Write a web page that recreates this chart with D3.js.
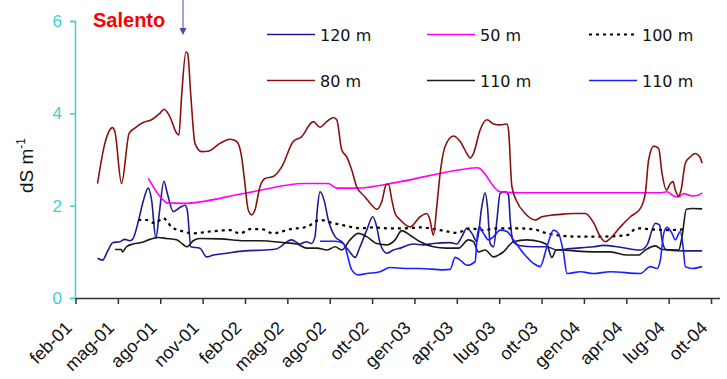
<!DOCTYPE html>
<html>
<head>
<meta charset="utf-8">
<script src="https://cdn.jsdelivr.net/npm/d3@7"></script>
<style>
  body { margin: 0; background: #fff; }
  svg { display: block; }
</style>
</head>
<body>
<div id="chart"></div>
<script>
// x in months since feb-01, y in dS m-1
const tickLabels = ["feb-01","mag-01","ago-01","nov-01","feb-02","mag-02","ago-02","ott-02",
                    "gen-03","apr-03","lug-03","ott-03","gen-04","apr-04","lug-04","ott-04"];
const yTicks = [0, 2, 4, 6];

const s120 = [[1.56,0.86],[1.91,0.82],[2.31,1.04],[2.66,1.20],[3.14,1.22],[3.49,1.27],[3.85,1.24],[4.08,1.29],
  [4.44,1.65],[4.79,2.09],[5.15,2.38],[5.39,2.12],[5.69,1.29],[5.93,1.83],[6.26,2.53],[6.5,2.27],[6.92,1.87],
  [7.39,1.96],[7.75,2.01],[7.91,1.91],[8.17,1.11],[8.81,1.08],[9.28,0.89],[9.75,0.93],[10.7,0.97],[12.0,1.02],
  [13.5,1.04],[14.2,1.06],[15.3,1.26],[15.9,1.17],[16.37,1.22],[16.7,1.18],[16.96,1.33],[17.12,1.91],[17.31,2.30],
  [17.6,2.12],[17.9,1.69],[18.38,1.33],[18.85,1.22],[19.32,1.04],[19.8,0.88],[20.15,1.11],[20.62,1.47],[21.05,1.76],
  [21.33,1.54],[21.57,1.18],[22.04,0.97],[22.51,1.04],[23.0,1.08],[23.93,1.17],[24.64,1.15],[25.34,1.18],[26.53,1.20],
  [27.0,1.17],[27.36,1.33],[27.71,1.51],[28.07,1.40],[28.42,1.22],[28.77,1.98],[29.0,2.28],[29.17,1.98],[29.36,1.18],
  [29.6,1.11],[29.84,1.69],[30.07,2.27],[30.43,2.30],[30.66,2.23],[30.78,1.69],[31.01,1.22],[31.49,1.13],[32.43,1.11],
  [33.38,1.11],[34.09,1.04],[35.0,1.07],[36.68,1.11],[37.39,1.14],[38.58,1.10],[40.0,1.04],[40.47,1.15],[41.06,1.62],
  [41.36,1.58],[41.53,1.26],[41.84,1.04],[43.18,1.02],[44.37,1.02]];

const s50 = [[5.15,2.59],[6.09,2.16],[6.5,2.06],[7.63,2.05],[12.0,2.27],[16.25,2.48],[17.9,2.48],[18.5,2.38],
  [19.9,2.38],[23.0,2.52],[27.47,2.79],[28.46,2.82],[30.07,2.30],[31.49,2.28],[41.5,2.28],[41.88,2.30],[42.35,2.21],
  [42.71,2.19],[43.06,2.26],[43.66,2.21],[44.12,2.23],[44.37,2.28]];

const s100 = [[4.44,1.69],[5.03,1.69],[5.62,1.62],[6.21,1.73],[6.8,1.54],[7.63,1.44],[8.33,1.40],[9.52,1.44],
  [10.94,1.47],[11.65,1.40],[12.35,1.49],[13.18,1.49],[14.0,1.40],[15.19,1.49],[16.37,1.54],[17.31,1.69],[18.26,1.62],
  [19.2,1.56],[20.15,1.51],[21.09,1.53],[22.04,1.51],[23.34,1.51],[24.4,1.53],[25.82,1.47],[27.0,1.41],[27.94,1.51],
  [28.89,1.47],[29.84,1.51],[31.01,1.51],[32.43,1.49],[33.38,1.40],[35.5,1.33],[37.16,1.33],[39.05,1.36],[39.76,1.51],
  [40.7,1.49],[41.88,1.47],[43.18,1.49]];

const s80 = [[1.56,2.48],[2.08,3.35],[2.62,3.69],[2.79,3.60],[3.26,2.48],[3.80,3.57],[4.20,3.68],[4.79,3.80],
  [5.39,3.86],[5.97,4.0],[6.28,4.09],[6.68,3.93],[7.16,3.57],[7.32,3.53],[7.51,4.36],[7.82,5.33],[7.94,5.30],[8.17,4.36],
  [8.46,3.35],[8.93,3.17],[9.40,3.18],[10.23,3.35],[10.94,3.44],[11.41,3.39],[11.76,3.06],[11.95,2.6],[12.23,1.91],
  [12.47,1.80],[12.71,1.91],[13.06,2.41],[13.42,2.59],[14.0,2.63],[14.6,2.84],[15.42,3.39],[16.0,3.49],[16.84,3.82],
  [17.31,3.70],[17.79,3.82],[18.26,3.91],[18.5,3.86],[18.85,3.21],[19.2,3.06],[19.56,2.77],[19.91,2.41],[20.5,2.19],
  [20.98,2.01],[21.33,1.92],[21.69,2.09],[21.99,2.45],[22.16,2.47],[22.4,2.12],[22.63,1.83],[23.0,1.69],[23.69,1.54],
  [24.4,1.76],[24.88,1.83],[25.1,1.69],[25.34,1.36],[25.58,1.98],[25.82,2.70],[26.17,3.28],[26.76,3.51],[27.24,3.39],
  [27.71,3.13],[27.94,3.03],[28.18,3.13],[28.65,3.64],[29.13,3.86],[29.6,3.77],[30.07,3.75],[30.55,3.77],[30.66,3.64],
  [30.9,2.41],[31.25,2.09],[31.84,1.83],[32.55,1.69],[33.03,1.76],[33.85,1.80],[34.68,1.82],[35.27,1.83],[36.1,1.83],
  [36.7,1.62],[37.16,1.33],[37.51,1.22],[37.87,1.29],[38.58,1.54],[39.29,1.76],[40.0,1.94],[40.35,2.27],[40.58,2.99],
  [40.94,3.29],[41.29,3.24],[41.53,2.70],[41.84,2.34],[42.12,2.48],[42.31,2.52],[42.47,2.34],[42.71,2.21],[42.88,2.34],
  [43.18,2.92],[43.54,3.06],[43.89,3.13],[44.2,3.06],[44.37,2.92]];

const s110k = [[2.79,1.05],[3.26,1.05],[3.33,1.00],[3.61,1.11],[4.08,1.17],[4.67,1.20],[5.27,1.27],[5.85,1.31],
  [6.45,1.29],[7.16,1.26],[7.58,1.17],[7.91,1.11],[8.33,1.24],[8.81,1.29],[10.23,1.28],[12.0,1.24],[13.06,1.24],
  [14.71,1.20],[15.66,1.17],[16.37,1.08],[17.08,1.08],[17.83,1.04],[18.38,1.11],[18.85,1.04],[19.44,1.26],[20.03,1.40],
  [20.62,1.33],[21.33,1.18],[22.04,1.15],[22.63,1.26],[23.1,1.46],[23.69,1.36],[24.4,1.22],[25.34,1.11],[26.29,1.08],
  [27.12,1.08],[27.82,1.26],[28.18,1.22],[28.53,1.00],[29.0,1.04],[29.6,0.89],[30.3,1.00],[31.01,1.22],[31.96,1.26],
  [32.9,1.22],[33.38,1.15],[33.73,0.88],[34.04,1.04],[36.68,1.00],[37.87,1.00],[39.05,0.93],[39.87,0.93],[40.35,1.04],
  [41.06,1.13],[41.53,1.05],[42.71,1.04],[42.95,1.33],[43.25,1.92],[43.66,1.94],[44.37,1.93]];

const s110b = [[17.31,1.23],[18.38,1.23],[18.97,1.18],[19.56,0.61],[20.03,0.50],[20.62,0.53],[21.57,0.57],
  [22.27,0.66],[23.34,0.64],[24.4,0.64],[26.05,0.61],[26.53,0.62],[26.88,0.88],[27.24,0.82],[27.71,0.71],[28.3,0.79],
  [28.42,1.26],[28.6,1.54],[28.89,1.40],[29.24,1.26],[29.6,1.33],[30.07,1.47],[30.55,1.44],[31.01,1.26],[31.72,0.97],
  [32.43,0.75],[32.9,0.68],[33.38,1.11],[33.85,1.47],[34.2,1.40],[34.56,0.97],[34.8,0.53],[35.75,0.57],[36.68,0.53],
  [37.87,0.57],[40.0,0.53],[40.7,0.68],[41.18,0.64],[41.41,0.82],[41.65,1.40],[41.88,1.53],[42.24,1.40],[42.47,1.26],
  [42.83,1.44],[43.02,1.11],[43.18,0.68],[43.66,0.64],[44.37,0.68]];

const series = [
  {name: "120 m", data: s120, color: "#1c1c96", dash: null},
  {name: "50 m",  data: s50,  color: "#ff00ff", dash: null},
  {name: "100 m", data: s100, color: "#000000", dash: "3,4"},
  {name: "80 m",  data: s80,  color: "#8b1010", dash: null},
  {name: "110 m", data: s110k, color: "#1a1a1a", dash: null},
  {name: "110 m", data: s110b, color: "#1e1eff", dash: null}
];

const W = 727, H = 379;
const svg = d3.select("#chart").append("svg")
  .attr("width", W).attr("height", H)
  .style("font-family", "'Liberation Sans', Arial, sans-serif");

const x = d3.scaleLinear().domain([0, 45.6]).range([75.5, 719.5]);
const y = d3.scaleLinear().domain([0, 6]).range([298, 21]);

// y axis (cyan)
const yAxis = svg.append("g")
  .attr("transform", "translate(75,0)")
  .call(d3.axisLeft(y).tickValues(yTicks).tickSize(5).tickPadding(8).tickFormat(d3.format("d")));
yAxis.select(".domain").attr("stroke", "#40d0d0").attr("stroke-width", 1.5);
yAxis.selectAll(".tick line").attr("stroke", "#40d0d0").attr("stroke-width", 1.5);
yAxis.selectAll(".tick text").attr("fill", "#40d0d0").attr("font-size", 17)
  .attr("font-family", "'Liberation Sans', Arial, sans-serif");

// x axis
const xAxis = svg.append("g")
  .attr("transform", "translate(0,298)")
  .call(d3.axisBottom(x).tickValues(d3.range(0, 46, 3)).tickSize(6).tickSizeOuter(0)
    .tickFormat((d, i) => tickLabels[i]));
xAxis.select(".domain").attr("stroke", "#333").attr("stroke-width", 1.5);
xAxis.selectAll(".tick line").attr("stroke", "#333").attr("stroke-width", 1.5);
xAxis.selectAll(".tick text")
  .attr("font-size", 18).attr("fill", "#111")
  .attr("font-family", "'Liberation Sans', Arial, sans-serif")
  .attr("text-anchor", "end")
  .attr("dy", null).attr("y", null)
  .attr("transform", "translate(-3,31) rotate(-45)");

// y label
const yl = svg.append("text")
  .attr("transform", "translate(33,193) rotate(-90)")
  .attr("font-size", 19).attr("fill", "#111");
yl.append("tspan").text("dS m");
yl.append("tspan").attr("font-size", 12).attr("dy", -8).text("-1");

// series
const line = d3.line().x(d => x(d[0])).y(d => y(d[1])).curve(d3.curveMonotoneX);
series.forEach(s => {
  svg.append("path")
    .datum(s.data)
    .attr("fill", "none")
    .attr("stroke", s.color)
    .attr("stroke-width", s.dash ? 2.2 : 1.6)
    .attr("stroke-dasharray", s.dash)
    .attr("d", line);
});

// legend
const legX = [267, 427, 589], legY = [34.5, 80.5];
series.forEach((s, i) => {
  const lx = legX[i % 3], ly = legY[Math.floor(i / 3)];
  svg.append("line")
    .attr("x1", lx).attr("x2", lx + 48).attr("y1", ly).attr("y2", ly)
    .attr("stroke", s.color).attr("stroke-width", s.dash ? 2.2 : 1.6)
    .attr("stroke-dasharray", s.dash);
  svg.append("text")
    .attr("x", lx + 53).attr("y", ly + 6)
    .attr("font-family", "'DejaVu Sans', Verdana, sans-serif")
    .attr("font-size", 16).attr("fill", "#111")
    .text(s.name);
});

// title + arrow
svg.append("text").attr("x", 93).attr("y", 27)
  .attr("font-size", 20).attr("font-weight", "bold").attr("fill", "#ff0000")
  .text("Salento");
svg.append("line").attr("x1", 183).attr("x2", 183).attr("y1", 0).attr("y2", 30)
  .attr("stroke", "#4a4aa8").attr("stroke-width", 1);
svg.append("path").attr("d", "M179.5,28 L186.5,28 L183,35 Z").attr("fill", "#4a4aa8");
</script>
</body>
</html>
